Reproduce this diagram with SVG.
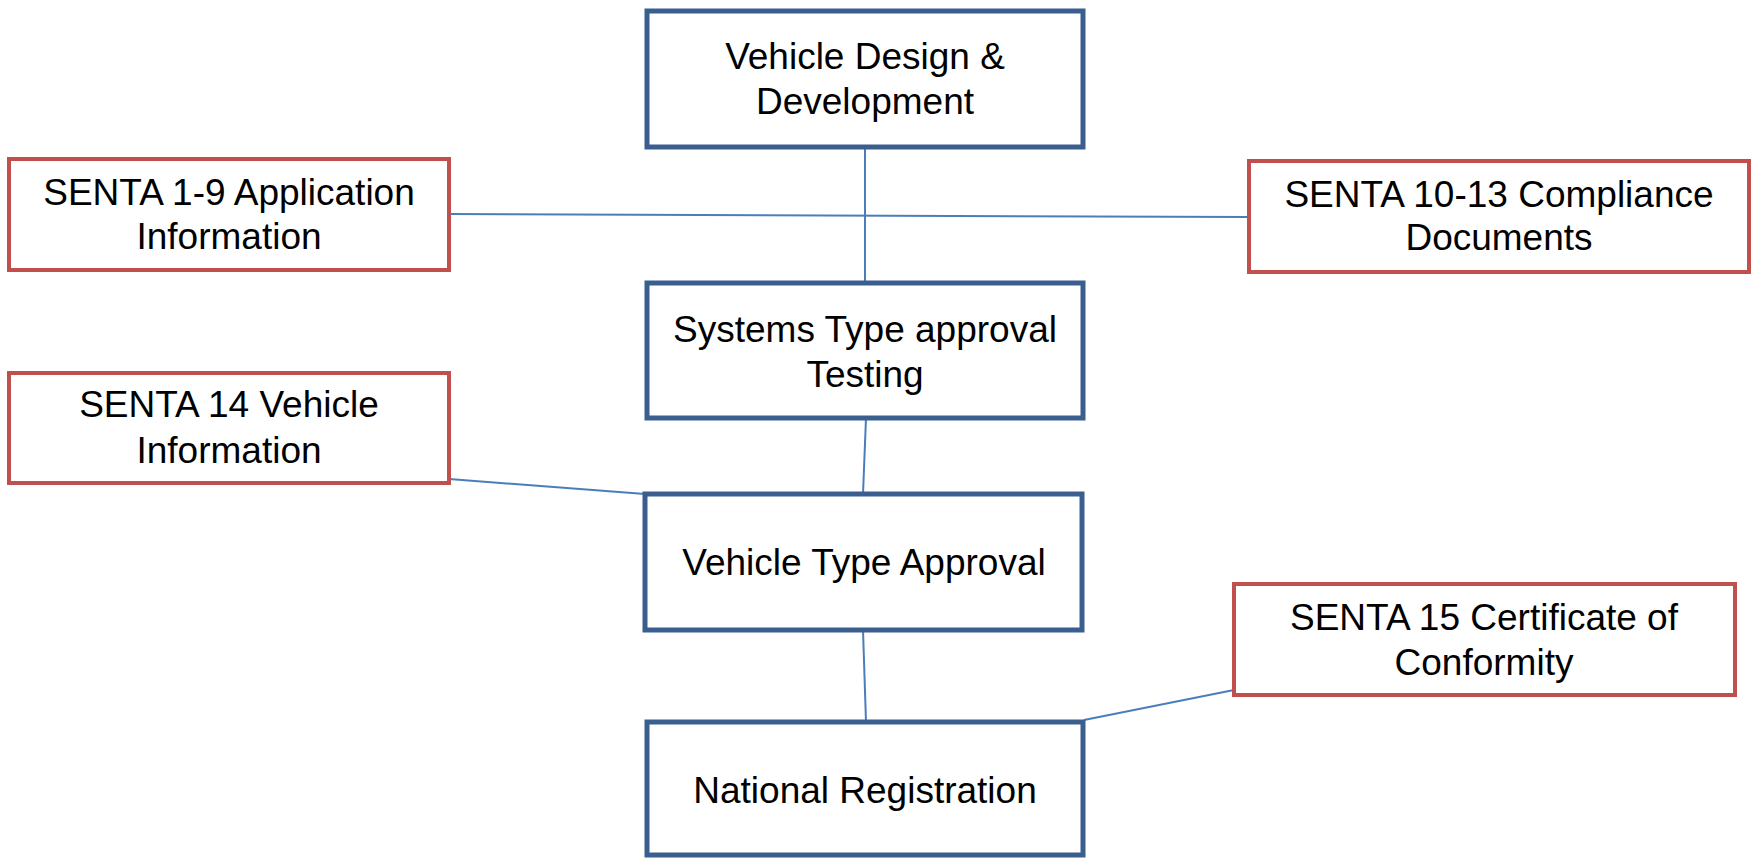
<svg xmlns="http://www.w3.org/2000/svg" width="1758" height="858" viewBox="0 0 1758 858">
<style>
.bg{fill:#ffffff}
.main{fill:#ffffff;stroke:#3A5F8F;stroke-width:5}
.doc{fill:#ffffff;stroke:#C0504D;stroke-width:4}
.lbl{font-family:"Liberation Sans",Arial,sans-serif;font-size:37px;fill:#000000;text-anchor:middle}
.conn{stroke:#4A7EBB;stroke-width:2;fill:none}
</style>
<rect class="bg" x="0" y="0" width="1758" height="858"/>
<g id="connectors">
<line class="conn" x1="865" y1="147" x2="865" y2="283"/>
<line class="conn" x1="449" y1="214" x2="1249" y2="217"/>
<line class="conn" x1="866" y1="418" x2="863" y2="494"/>
<line class="conn" x1="449" y1="479" x2="645" y2="494"/>
<line class="conn" x1="863" y1="630" x2="866" y2="722"/>
<line class="conn" x1="1084" y1="720" x2="1234" y2="690"/>
</g>
<g id="vehicle-design">
<rect class="main" x="647" y="11" width="436" height="136"/>
<text class="lbl" x="865" y="69">Vehicle Design &amp;</text>
<text class="lbl" x="865" y="114">Development</text>
</g>
<g id="senta-1-9">
<rect class="doc" x="9" y="159" width="440" height="111"/>
<text class="lbl" x="229" y="205">SENTA 1-9 Application</text>
<text class="lbl" x="229" y="249">Information</text>
</g>
<g id="senta-10-13">
<rect class="doc" x="1249" y="161" width="500" height="111"/>
<text class="lbl" x="1499" y="207">SENTA 10-13 Compliance</text>
<text class="lbl" x="1499" y="250">Documents</text>
</g>
<g id="systems-type-approval">
<rect class="main" x="647" y="283" width="436" height="135"/>
<text class="lbl" x="865" y="342">Systems Type approval</text>
<text class="lbl" x="865" y="387">Testing</text>
</g>
<g id="senta-14">
<rect class="doc" x="9" y="373" width="440" height="110"/>
<text class="lbl" x="229" y="417">SENTA 14 Vehicle</text>
<text class="lbl" x="229" y="463">Information</text>
</g>
<g id="vehicle-type-approval">
<rect class="main" x="645" y="494" width="437" height="136"/>
<text class="lbl" x="864" y="575">Vehicle Type Approval</text>
</g>
<g id="senta-15">
<rect class="doc" x="1234" y="584" width="501" height="111"/>
<text class="lbl" x="1484" y="630">SENTA 15 Certificate of</text>
<text class="lbl" x="1484" y="675">Conformity</text>
</g>
<g id="national-registration">
<rect class="main" x="647" y="722" width="436" height="133"/>
<text class="lbl" x="865" y="803">National Registration</text>
</g>
</svg>
